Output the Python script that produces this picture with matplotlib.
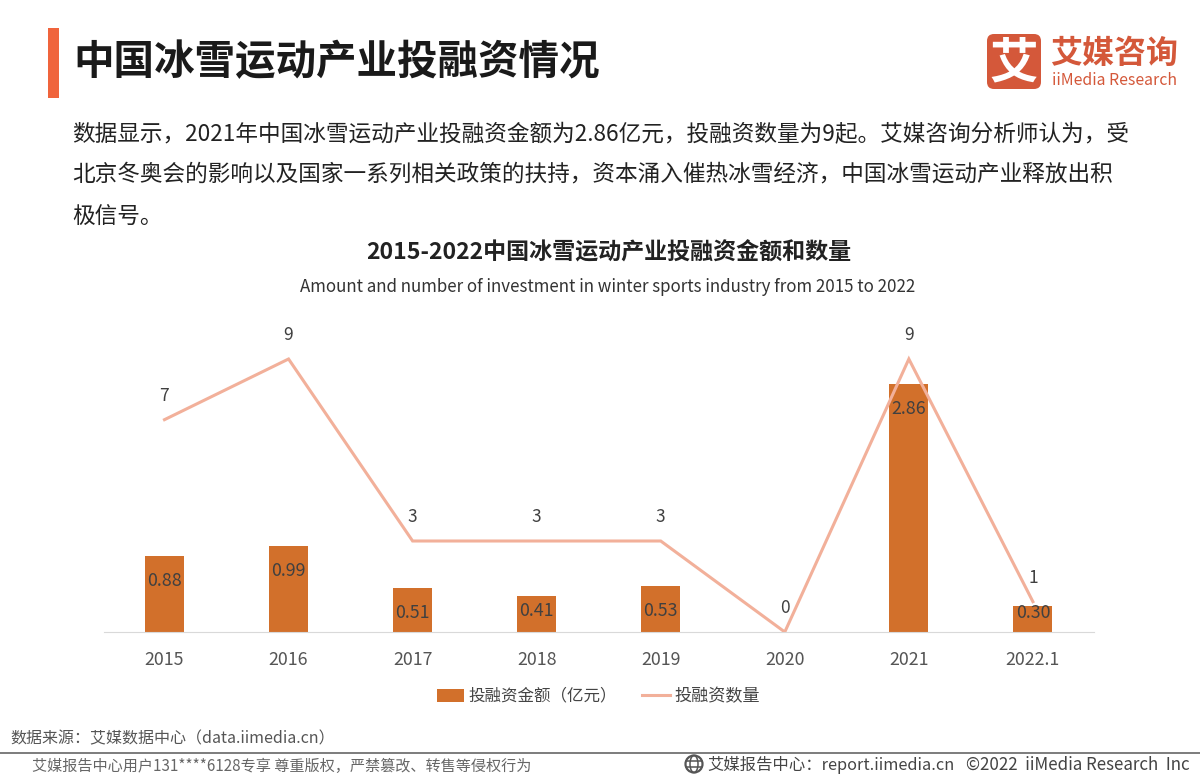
import matplotlib
matplotlib.use('Agg')
import matplotlib.pyplot as plt
from matplotlib.patches import Rectangle, Circle, FancyBboxPatch, Ellipse
plt.rcParams['font.family'] = ['Noto Sans CJK SC', 'DejaVu Sans']

categories = ['2015','2016','2017','2018','2019','2020','2021','2022.1']
amounts = [0.88,0.99,0.51,0.41,0.53,0,2.86,0.30]
amount_labels = ['0.88','0.99','0.51','0.41','0.53','','2.86','0.30']
label_drop = [25,25,25,15,25,0,25,7]
counts = [7,9,3,3,3,0,9,1]
BAR='#D2702B'; LINE='#F2B09A'; TXT='#404040'; LOGO='#D4583A'

fig = plt.figure(figsize=(12,7.79),dpi=100)
bg = fig.add_axes([0,0,1,1]); bg.set_xlim(0,1200); bg.set_ylim(779,0); bg.axis('off')
bg.add_patch(Rectangle((48,28),11,70,color='#F0643C',lw=0))
bg.text(73,63,'中国冰雪运动产业投融资情况',fontsize=29.2,weight='bold',color='#1a1a1a',va='center')
para=['数据显示，2021年中国冰雪运动产业投融资金额为2.86亿元，投融资数量为9起。艾媒咨询分析师认为，受',
'北京冬奥会的影响以及国家一系列相关政策的扶持，资本涌入催热冰雪经济，中国冰雪运动产业释放出积','极信号。']
for y,t in zip([135,174,216],para):
    bg.text(72,y,t,fontsize=16.3,color='#222222',va='center')
bg.text(608.5,253,'2015-2022中国冰雪运动产业投融资金额和数量',fontsize=16.6,weight='bold',color='#222222',ha='center',va='center')
bg.text(608,287,'Amount and number of investment in winter sports industry from 2015 to 2022',fontsize=12.2,color='#333333',ha='center',va='center')
# logo
bg.add_patch(FancyBboxPatch((991,38),46,47,boxstyle='round,pad=4,rounding_size=7',fc=LOGO,ec='none'))
bg.text(1014,63,'艾',fontsize=35,color='white',weight='bold',ha='center',va='center')
bg.text(1050,54,'艾媒咨询',fontsize=23,color=LOGO,weight='bold',va='center')
bg.text(1052,80,'iiMedia Research',fontsize=11.4,color=LOGO,weight='medium',va='center')
# footer
bg.text(10,739,'数据来源：艾媒数据中心（data.iimedia.cn）',fontsize=11.5,color='#555555',va='center')
bg.plot([0,1200],[752.5,752.5],color='#666666',lw=1.2)
bg.text(32,766,'艾媒报告中心用户131****6128专享 尊重版权，严禁篡改、转售等侵权行为',fontsize=10.9,color='#666666',va='center')
bg.add_patch(Circle((694,764),8.5,fc='none',ec='#555555',lw=1.6))
bg.add_patch(Ellipse((694,764),8,17,fc='none',ec='#555555',lw=1.1))
bg.plot([686,702],[761,761],color='#555555',lw=1.1)
bg.plot([686,702],[767,767],color='#555555',lw=1.1)
bg.text(707,765,'艾媒报告中心：report.iimedia.cn',fontsize=11.75,color='#444444',va='center')
bg.text(966,765,'©2022  iiMedia Research  Inc',fontsize=12.2,color='#444444',va='center')

x=list(range(len(categories)))
ax=fig.add_axes([103.7/1200,1-632/779,990/1200,(632-320)/779])
ax.set_xlim(-0.49,7.49); ax.set_ylim(0,2.86*312/248)
ax.patch.set_alpha(0)
ax.bar(x,amounts,width=0.315,color=BAR,zorder=2)
for s in ['top','left','right']: ax.spines[s].set_visible(False)
ax.spines['bottom'].set_color('#D9D9D9')
ax.set_yticks([]); ax.set_xticks(x); ax.set_xticklabels(categories,fontsize=12.8,color='#555555')
ax.tick_params(axis='x',length=0,pad=14)
ax2=ax.twinx(); ax2.set_ylim(0,9*312/273); ax2.axis('off')
ax2.plot(x,counts,color=LINE,lw=2.2,zorder=4,solid_joinstyle='miter')
for xi,c in zip(x,counts):
    ax2.annotate(str(c),(xi,c),xytext=(0,17),textcoords='offset points',ha='center',va='center',fontsize=12.5,color=TXT)
for xi,v,l,d in zip(x,amounts,amount_labels,label_drop):
    if l: ax2.annotate(l,(xi,v*(9*312/273)/(2.86*312/248)),xytext=(0,-d*0.72),textcoords='offset points',ha='center',va='center',fontsize=12.8,color=TXT,zorder=5)
# legend
bg.add_patch(Rectangle((437,689),27,13,color=BAR,lw=0))
bg.text(468,696,'投融资金额（亿元）',fontsize=11.9,color='#444444',va='center')
bg.plot([642,670],[695,695],color=LINE,lw=2.2)
bg.text(674,696,'投融资数量',fontsize=12.3,color='#444444',va='center')
fig.savefig('out.png',dpi=100)
